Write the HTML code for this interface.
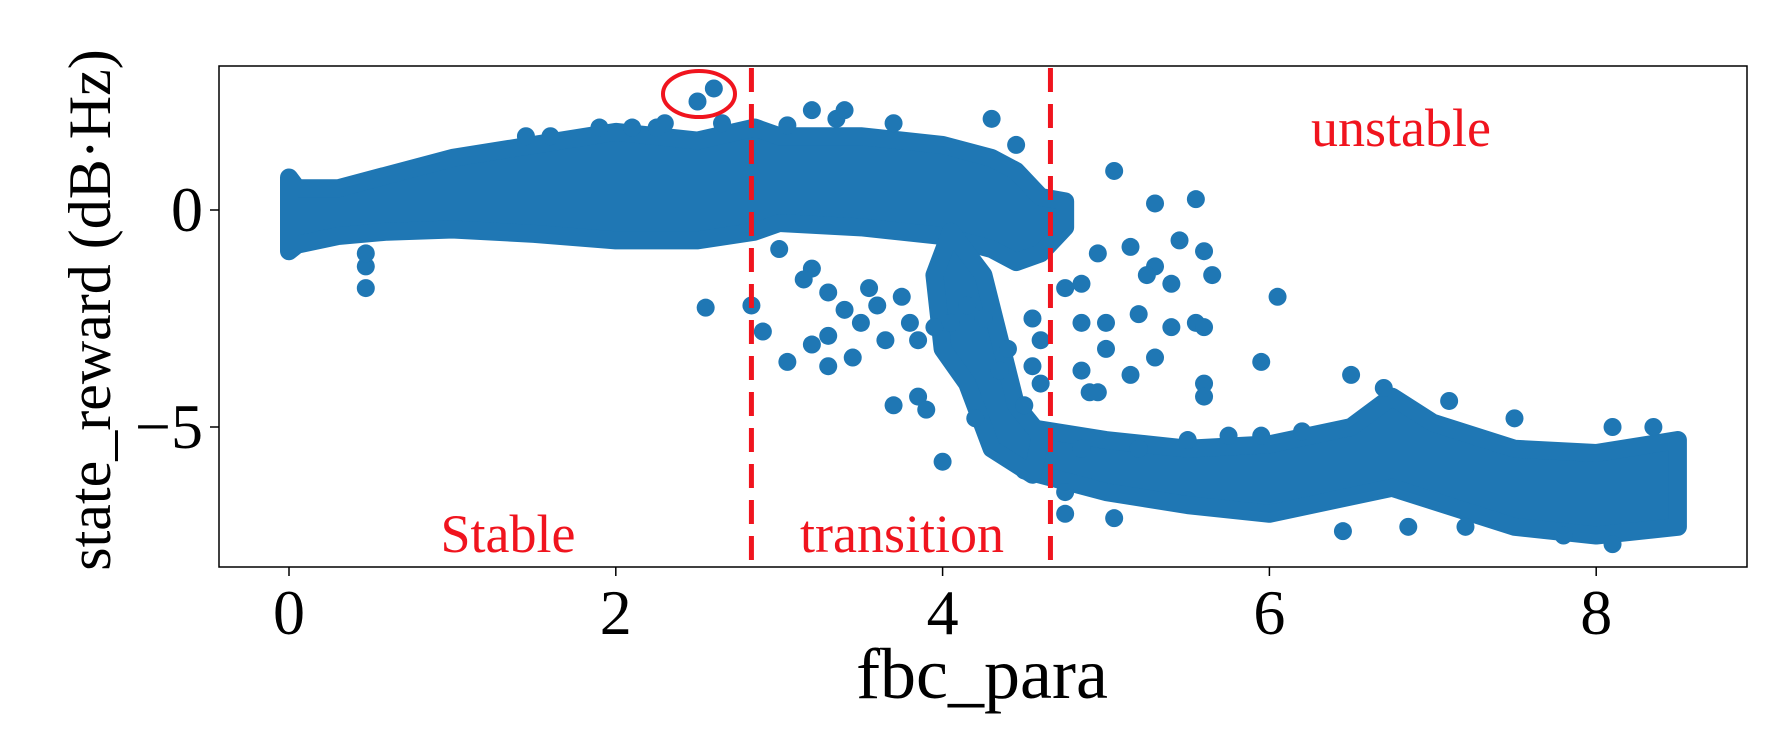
<!DOCTYPE html>
<html><head><meta charset="utf-8"><style>
html,body{margin:0;padding:0;background:#fff;}
svg{display:block;font-family:"Liberation Serif",serif;}
</style></head><body>
<svg id="chart" width="1790" height="742" viewBox="0 0 1790 742" xmlns="http://www.w3.org/2000/svg">
<g id="marks"></g>
<g id="axes"></g>
</svg>
<script>
// ---- data ----
const xTicks = [0, 2, 4, 6, 8];
const yTicks = [0, -5];
const yTickLabels = ["0", "\u22125"];
const boundaries = [2.83, 4.66];
// dense upper band (x, top, bottom)
const upperX = [0, 0.05, 0.3, 0.6, 1.0, 1.5, 2.0, 2.5, 2.85, 3.0, 3.5, 4.0, 4.3, 4.45, 4.6, 4.75];
const upperHi = [0.75, 0.5, 0.5, 0.8, 1.2, 1.5, 1.8, 1.6, 1.9, 1.7, 1.7, 1.5, 1.2, 0.9, 0.3, 0.2];
const upperLo = [-0.95, -0.8, -0.6, -0.5, -0.45, -0.55, -0.7, -0.7, -0.5, -0.3, -0.4, -0.6, -0.9, -1.2, -1.0, -0.4];
// dense lower band
const lowerX = [4.5, 5.0, 5.5, 6.0, 6.5, 6.75, 7.0, 7.5, 8.0, 8.5];
const lowerHi = [-5.0, -5.3, -5.5, -5.4, -5.0, -4.3, -4.9, -5.5, -5.6, -5.3];
const lowerLo = [-6.0, -6.5, -6.8, -7.0, -6.6, -6.4, -6.7, -7.3, -7.5, -7.3];
// transition diagonal blob polygon
const transX = [4.05, 4.25, 4.35, 4.45, 4.6, 4.55, 4.3, 4.15, 4.0, 3.95];
const transY = [-0.5, -1.5, -3.0, -4.5, -5.2, -6.1, -5.5, -4.0, -3.2, -1.5];
// scattered points
const ptX = [0.47,0.47,0.47,2.55,2.83,2.9,3.05,3.2,3.3,3.3,3.45,3.5,3.6,3.65,3.7,3.85,3.9,3.8,3.0,3.2,3.15,3.3,3.4,3.55,3.75,3.95,4.0,3.85,
 2.5,2.6,2.3,2.65,3.2,3.35,3.4,3.05,3.7,4.3,4.45,1.9,1.6,1.45,2.1,2.25,
 5.05,5.3,5.55,5.15,5.3,5.45,5.6,5.4,5.25,5.2,5.0,4.85,5.55,5.4,5.65,6.05,5.0,5.3,4.85,4.9,5.15,5.95,5.6,5.6,4.95,5.6,4.95,4.85,4.75,
 6.5,6.7,7.1,7.5,8.1,8.35,6.45,6.85,5.75,5.95,6.2,5.5,4.85,5.2,4.75,7.2,8.1,7.8,4.75,5.05,
 4.25,4.4,4.55,4.6,4.55,4.35,4.15,4.05,4.5,4.6,4.2];
const ptY = [-1.8,-1.3,-1.0,-2.25,-2.2,-2.8,-3.5,-3.1,-3.6,-2.9,-3.4,-2.6,-2.2,-3.0,-4.5,-4.3,-4.6,-2.6,-0.9,-1.35,-1.6,-1.9,-2.3,-1.8,-2.0,-2.7,-5.8,-3.0,
 2.5,2.8,2.0,2.0,2.3,2.1,2.3,1.95,2.0,2.1,1.5,1.9,1.7,1.7,1.9,1.9,
 0.9,0.15,0.25,-0.85,-1.3,-0.7,-0.95,-1.7,-1.5,-2.4,-2.6,-2.6,-2.6,-2.7,-1.5,-2.0,-3.2,-3.4,-3.7,-4.2,-3.8,-3.5,-4.0,-4.3,-4.2,-2.7,-1.0,-1.7,-1.8,
 -3.8,-4.1,-4.4,-4.8,-5.0,-5.0,-7.4,-7.3,-5.2,-5.2,-5.1,-5.3,-5.5,-5.5,-7.0,-7.3,-7.7,-7.5,-6.5,-7.1,
 -2.5,-3.2,-2.5,-3.0,-3.6,-3.7,-2.2,-2.6,-4.5,-4.0,-4.8];

// ---- scales ----
const X = v => 289 + v * 163.4;
const Y = v => 210 - v * 43.4;
const NS = "http://www.w3.org/2000/svg";
const blue = "#1f77b4";
const marks = document.getElementById('marks');
const axes = document.getElementById('axes');
function mk(tag, attrs, parent){const e=document.createElementNS(NS,tag);for(const k in attrs)e.setAttribute(k,attrs[k]);parent.appendChild(e);return e;}

function bandPath(xs, hi, lo){
  let p = xs.map((x,i)=>X(x)+','+Y(hi[i]));
  for(let i=xs.length-1;i>=0;i--) p.push(X(xs[i])+','+Y(lo[i]));
  return p.join(' ');
}
let b1 = mk('polygon',{points:bandPath(upperX,upperHi,upperLo),fill:blue,stroke:blue,'stroke-width':18,'stroke-linejoin':'round'},marks);


let b2 = mk('polygon',{points:bandPath(lowerX,lowerHi,lowerLo),fill:blue,stroke:blue,'stroke-width':18,'stroke-linejoin':'round'},marks);


let b3 = mk('polygon',{points:transX.map((x,i)=>X(x)+','+Y(transY[i])).join(' '),fill:blue,stroke:blue,'stroke-width':18,'stroke-linejoin':'round'},marks);


ptX.forEach((x,i)=>{
  const c = mk('circle',{cx:X(x),cy:Y(ptY[i]),r:9,fill:blue},marks);
  
  
});

// boundaries
boundaries.forEach(b=>{
  const l = mk('line',{x1:X(b),x2:X(b),y1:68,y2:567,stroke:'#f0141e','stroke-width':5,'stroke-dasharray':'24 12'},marks);
  
  
});
// highlight circle
const hc = mk('ellipse',{cx:699,cy:94,rx:36,ry:23,fill:'none',stroke:'#f0141e','stroke-width':4},marks);



// region labels
[["Stable",508,552,"stable-label"],["transition",902,552,"transition-label"],["unstable",1401,146,"unstable-label"]].forEach(t=>{
  const e = mk('text',{x:t[1],y:t[2],'text-anchor':'middle','font-size':54,fill:'#f0141e'},marks);
  e.textContent=t[0];
  
  
});

// frame
const fr = mk('rect',{x:219,y:66,width:1528,height:501,fill:'none',stroke:'#000','stroke-width':1.5},axes);


xTicks.forEach(v=>{
  const t = mk('line',{x1:X(v),x2:X(v),y1:567,y2:576,stroke:'#000','stroke-width':1.5},axes);
  
  
  const l = mk('text',{x:X(v),y:634,'text-anchor':'middle','font-size':64},axes);
  l.textContent=String(v);
  
  
});
yTicks.forEach((v,i)=>{
  const t = mk('line',{x1:210,x2:219,y1:Y(v),y2:Y(v),stroke:'#000','stroke-width':1.5},axes);
  
  
  const l = mk('text',{x:203,y:Y(v)+21,'text-anchor':'end','font-size':64},axes);
  l.textContent=yTickLabels[i];
  
  
});
const xt = mk('text',{x:982,y:698,'text-anchor':'middle','font-size':72},axes);
xt.textContent='fbc_para';


const yt = mk('text',{x:0,y:0,'text-anchor':'middle','font-size':60,transform:'translate(110,310) rotate(-90)'},axes);
yt.textContent='state_reward (dB\u00b7Hz)';


</script>
</body></html>
